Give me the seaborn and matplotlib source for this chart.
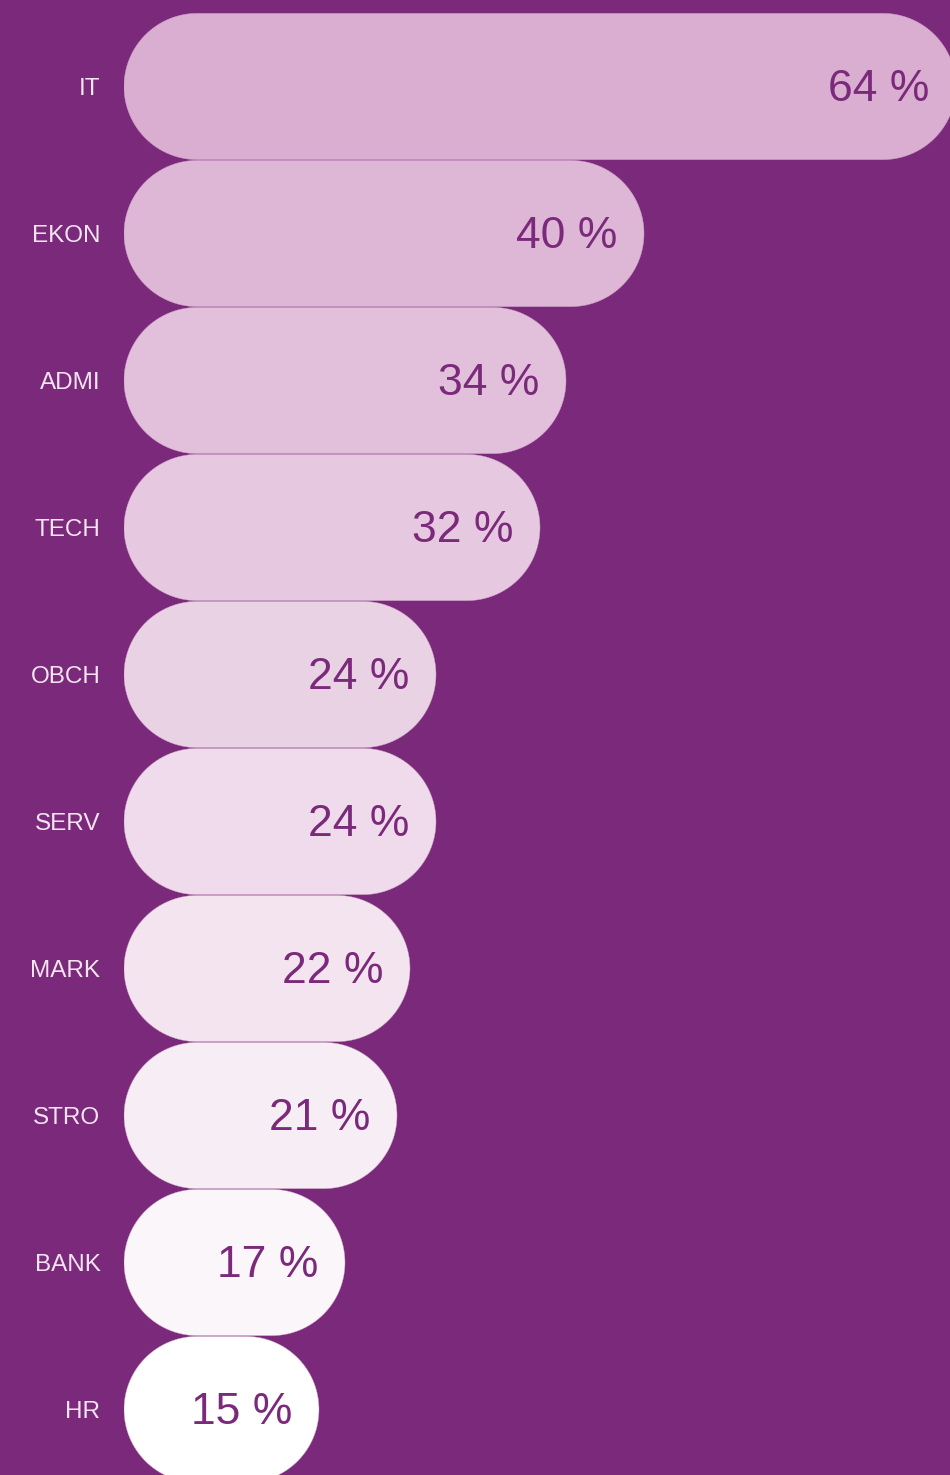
import seaborn as sns
import matplotlib.pyplot as plt
import numpy as np
import pandas as pd
from matplotlib.patches import Polygon

# podíl podle oboru
obor = ["IT", "EKON", "ADMI", "TECH", "OBCH", "SERV", "MARK", "STRO", "BANK", "HR"]
podil = [64, 40, 34, 32, 24, 24, 22, 21, 17, 15]

df = pd.DataFrame({"obor": obor, "podil": podil})

bg = "#7B2A7B"
palette = sns.blend_palette(["#DAAED1", "#FFFFFF"], len(obor))

sns.set_style("white")
plt.rcParams["font.family"] = ["Liberation Sans", "DejaVu Sans"]

W, H = 950, 1475
fig = plt.figure(figsize=(W / 100, H / 100), dpi=100, facecolor=bg)
# 0 % lies at x=124 px, one row is 147 px tall
ax = fig.add_axes([124 / W, (H - 13 - 1470) / H, 826 / W, 1470 / H])
ax.set_facecolor(bg)

bar_h = 0.995
sns.barplot(data=df, y="obor", x="podil", hue="obor", palette=palette,
            orient="h", width=bar_h, saturation=1, legend=False, ax=ax)

xmax = 826 / 13
ax.set_xlim(0, xmax)
ax.set_ylim(len(obor) - 0.5, -0.5)

# swap rectangles for pill shapes (half-circle ends in pixel space)
sx = 826 / xmax
sy = 147
t = np.linspace(-np.pi / 2, np.pi / 2, 60)
for p in list(ax.patches):
    x0, y0 = p.get_x(), p.get_y()
    w, h = p.get_width(), p.get_height()
    ry = h / 2
    rx = ry * sy / sx
    yc = y0 + ry
    right = np.column_stack([x0 + w - rx + rx * np.cos(t), yc + ry * np.sin(t)])
    left = np.column_stack([x0 + rx - rx * np.cos(t[::-1]), yc + ry * np.sin(t[::-1])])
    pill = Polygon(np.vstack([right, left]), closed=True,
                   facecolor=p.get_facecolor(),
                   edgecolor="#CFA3C8", linewidth=0.3)
    p.remove()
    ax.add_patch(pill)

for i, v in enumerate(podil):
    ax.annotate(f"{v} %", xy=(v, i), xytext=(-19, -2.5), textcoords="offset points",
                ha="right", va="center", color=bg, fontsize=32,
                annotation_clip=False)

ax.set_xlabel("")
ax.set_ylabel("")
ax.set_xticks([])
ax.tick_params(axis="y", length=0, pad=17, labelsize=17.5, labelcolor="#F3E4F0")
for s in ax.spines.values():
    s.set_visible(False)

fig.savefig("out.png", dpi=100, facecolor=bg)
